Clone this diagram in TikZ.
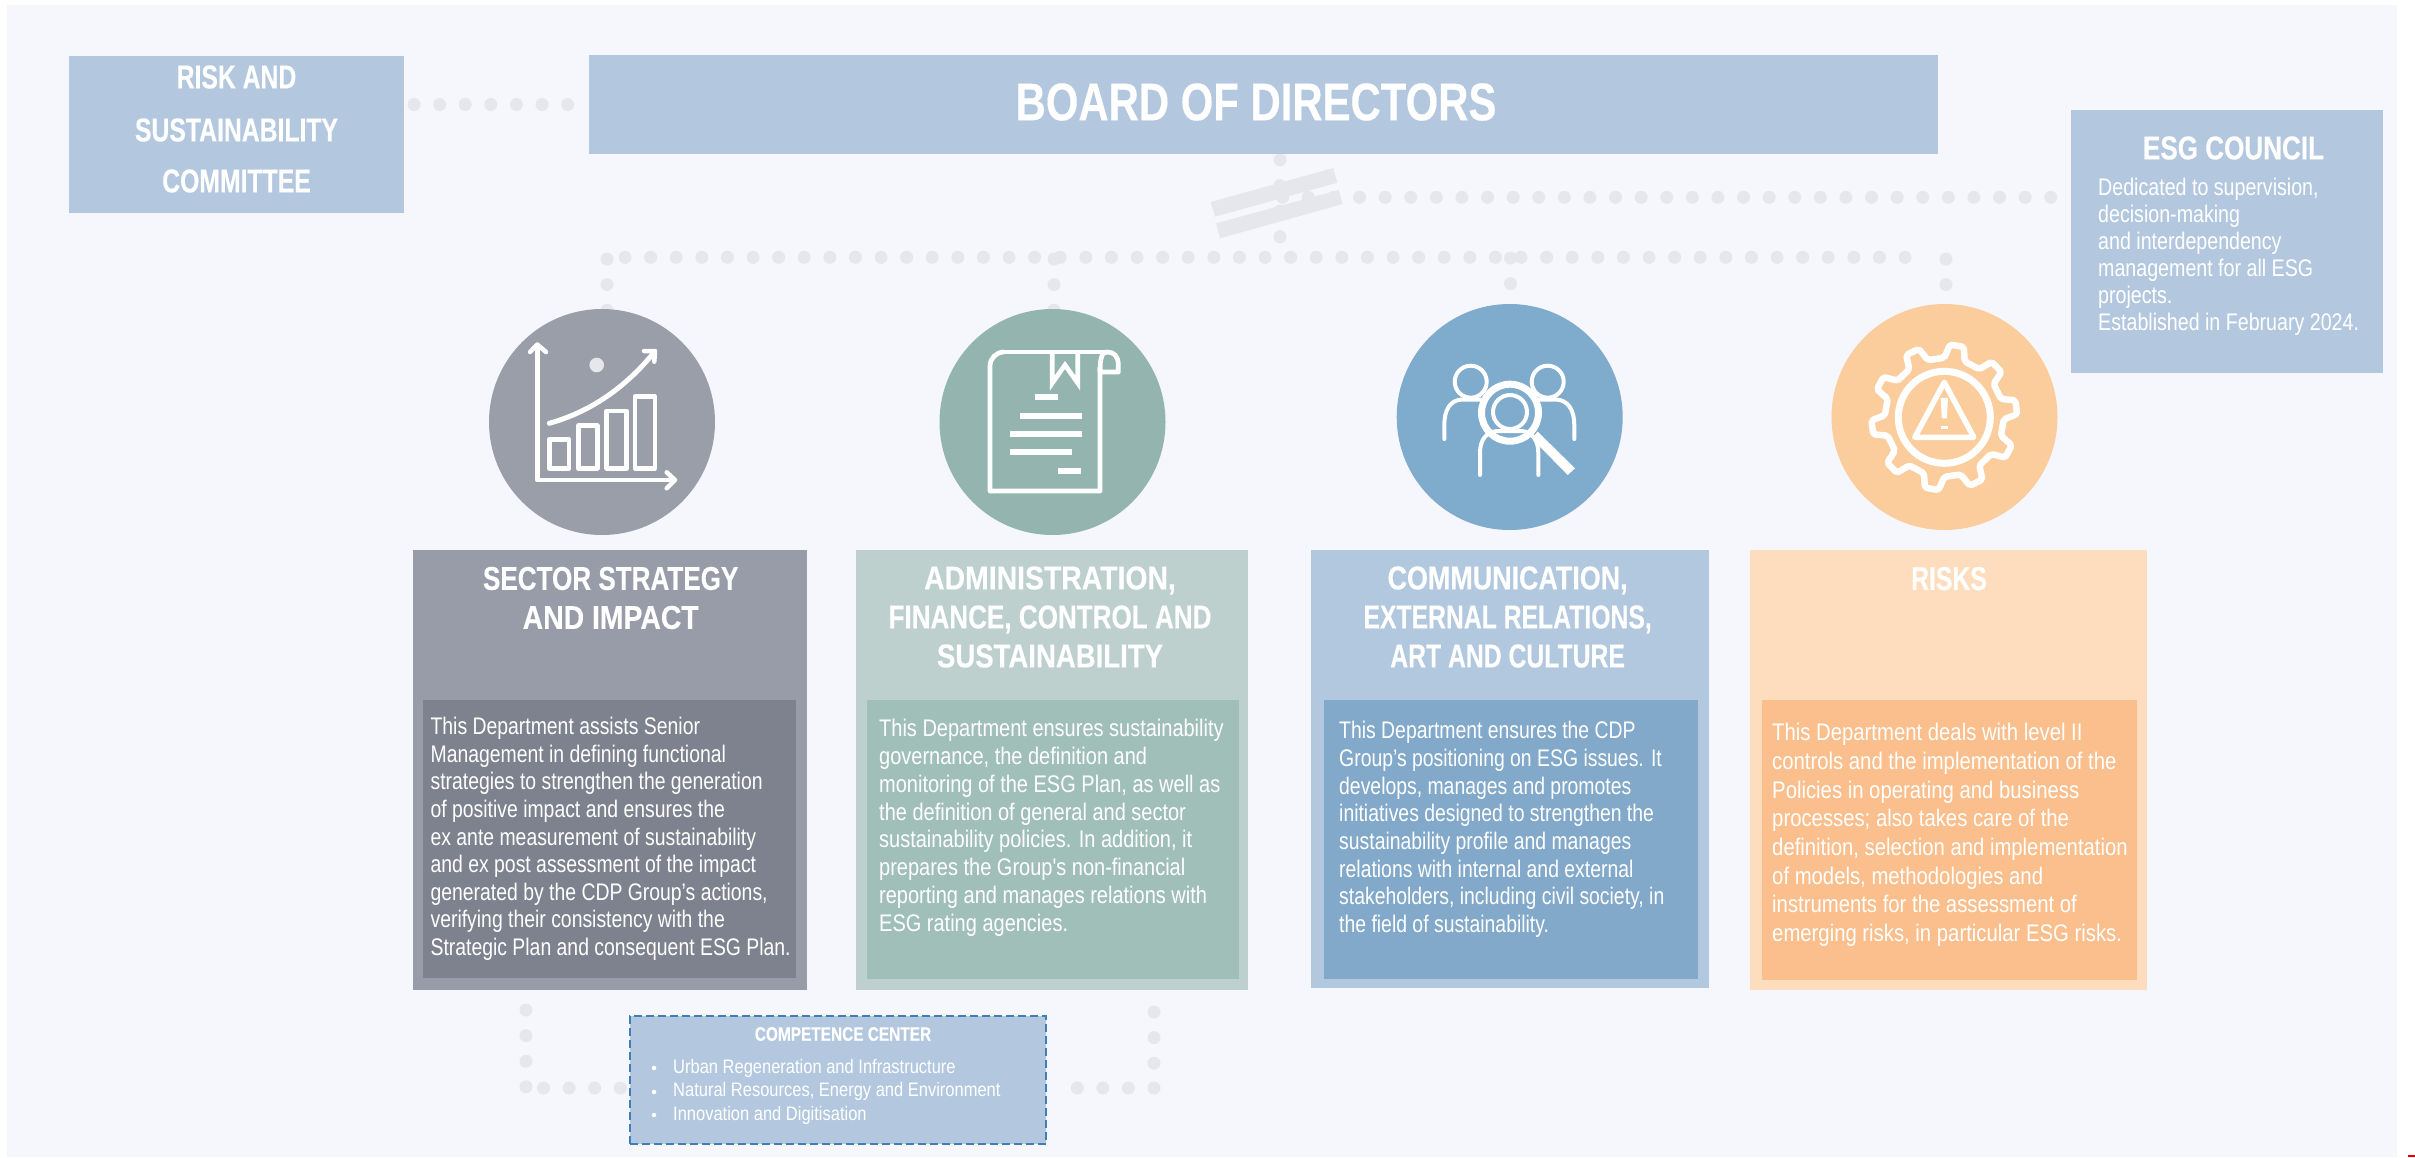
\documentclass[tikz,border=0pt]{standalone}
\usepackage{fontspec}
\setmainfont{Liberation Sans}
\newfontfamily\bodyA[FakeStretch=0.808]{Liberation Sans}
\newfontfamily\bodyB[FakeStretch=0.833]{Liberation Sans}
\newfontfamily\bodyC[FakeStretch=0.846]{Liberation Sans}
\newfontfamily\bodyD[FakeStretch=0.818]{Liberation Sans}
\newfontfamily\headA[FakeStretch=0.79,FakeBold=0.3]{Liberation Sans Bold}
\newfontfamily\headB[FakeStretch=0.75,FakeBold=0.3]{Liberation Sans Bold}
\newfontfamily\headC[FakeStretch=0.815,FakeBold=0.3]{Liberation Sans Bold}
\newfontfamily\headD[FakeStretch=0.86,FakeBold=0.3]{Liberation Sans Bold}
\newfontfamily\headE[FakeStretch=0.835,FakeBold=0.3]{Liberation Sans Bold}
\usetikzlibrary{backgrounds,calc}
\definecolor{bgc}{HTML}{F5F7FC}
\definecolor{boxc}{HTML}{B3C8DF}
\definecolor{dotc}{HTML}{E6E7EC}
\definecolor{gc}{HTML}{9A9EA9}\definecolor{gp}{HTML}{989CA8}\definecolor{gi}{HTML}{7E828E}
\definecolor{tc}{HTML}{94B5AF}\definecolor{tp}{HTML}{BDD0CD}\definecolor{ti}{HTML}{A1BFB9}
\definecolor{bc}{HTML}{7FABCC}\definecolor{bp}{HTML}{B2C8DF}\definecolor{bi}{HTML}{82A9C9}
\definecolor{oc}{HTML}{FBCC9C}\definecolor{op}{HTML}{FDDDBD}\definecolor{oi}{HTML}{FABF8C}
\definecolor{dash}{HTML}{3E7FB5}
\tikzset{
  x=1pt,y=-1pt,
  flat/.style={inner sep=0pt,outer sep=0pt,draw=none,rectangle},
  disc/.style={inner sep=0pt,outer sep=0pt,circle,minimum size=226pt},
  dots/.style={draw=dotc,line width=13pt,line cap=round,dash pattern=on 0pt off 25.6pt},
  titletext/.style={text=white,align=center,inner sep=0pt,font=\headA\fontsize{33}{39}\selectfont},
  bodytext/.style={text=white,align=left,inner sep=0pt,anchor=north west,font=\bodyA\fontsize{24}{27.6}\selectfont},
  ico/.style={draw=white,line width=4.5pt,fill=none,line join=round},
}
\begin{document}
\begin{tikzpicture}
\useasboundingbox (0,0) rectangle (2415,1157);
% boxes
\node[flat,fill=boxc,minimum width=335pt,minimum height=157pt] (risk) at (236.5,134.5) {};
\node[flat,fill=boxc,minimum width=1349pt,minimum height=99pt] (board) at (1263.5,104.5) {};
\node[flat,fill=boxc,minimum width=312pt,minimum height=263pt] (council) at (2227,241.5) {};
\node[titletext,font=\headB\fontsize{33}{39}\selectfont] (risk1) at (236.5,77) {RISK AND};
\node[titletext,font=\headB\fontsize{33}{39}\selectfont] (risk2) at (236.5,130) {SUSTAINABILITY};
\node[titletext,font=\headB\fontsize{33}{39}\selectfont] (risk3) at (236.5,181) {COMMITTEE};
\node[titletext,font=\headA\fontsize{53}{60}\selectfont] (boardt) at (1256,102) {BOARD OF DIRECTORS};
\node[titletext] (councilt) at (2233.5,148) {ESG COUNCIL};
\node[bodytext,font=\bodyD\fontsize{24}{27}\selectfont] (councilb) at (2098,178) {Dedicated to supervision,\\decision-making\\and interdependency\\management for all ESG\\projects.\\Established in February 2024.};
% circles
\node[disc,fill=gc] (c1) at (602,422) {};
\node[disc,fill=tc] (c2) at (1052.5,422) {};
\node[disc,fill=bc] (c3) at (1509.7,417) {};
\node[disc,fill=oc] (c4) at (1944.5,417) {};
% panels
\node[flat,fill=gp,minimum width=394pt,minimum height=440pt] (p1) at (610,770) {};
\node[flat,fill=tp,minimum width=392pt,minimum height=440pt] (p2) at (1052,770) {};
\node[flat,fill=bp,minimum width=398pt,minimum height=438pt] (p3) at (1510,769) {};
\node[flat,fill=op,minimum width=397pt,minimum height=440pt] (p4) at (1948.5,770) {};
\node[flat,fill=gi,minimum width=373pt,minimum height=278pt] (i1) at (609.5,839) {};
\node[flat,fill=ti,minimum width=372pt,minimum height=279pt] (i2) at (1053,839.5) {};
\node[flat,fill=bi,minimum width=374pt,minimum height=279pt] (i3) at (1511,839.5) {};
\node[flat,fill=oi,minimum width=375pt,minimum height=280pt] (i4) at (1949.5,840) {};
\node[titletext] (t1) at (610.7,598) {SECTOR STRATEGY\\{\headD AND IMPACT}};
\node[titletext] (t2) at (1050,617) {{\headD ADMINISTRATION,}\\FINANCE, CONTROL AND\\{\headE SUSTAINABILITY}};
\node[titletext] (t3) at (1507.6,617) {{\headC COMMUNICATION,}\\{\headB EXTERNAL RELATIONS,}\\{\headB ART AND CULTURE}};
\node[titletext,font=\headB\fontsize{33}{39}\selectfont] (t4) at (1949,578.6) {RISKS};
\node[bodytext] (b1) at (430.4,717) {This Department assists Senior\\Management in defining functional\\strategies to strengthen the generation\\of positive impact and ensures the\\ex ante measurement of sustainability\\and ex post assessment of the impact\\generated by the CDP Group’s actions,\\verifying their consistency with the\\Strategic Plan and consequent ESG Plan.};
\node[bodytext,font=\bodyB\fontsize{24}{27.8}\selectfont] (b2) at (879,719) {This Department ensures sustainability\\governance, the definition and\\monitoring of the ESG Plan, as well as\\the definition of general and sector\\sustainability policies. In addition, it\\prepares the Group's non-financial\\reporting and manages relations with\\ESG rating agencies.};
\node[bodytext,font=\bodyA\fontsize{24}{27.7}\selectfont] (b3) at (1339,721) {This Department ensures the CDP\\Group’s positioning on ESG issues. It\\develops, manages and promotes\\initiatives designed to strengthen the\\sustainability profile and manages\\relations with internal and external\\stakeholders, including civil society, in\\the field of sustainability.};
\node[bodytext,font=\bodyC\fontsize{24}{28.7}\selectfont] (b4) at (1772,723) {This Department deals with level II\\controls and the implementation of the\\Policies in operating and business\\processes; also takes care of the\\definition, selection and implementation\\of models, methodologies and\\instruments for the assessment of\\emerging risks, in particular ESG risks.};
% competence
\node[flat,fill=boxc,draw=dash,line width=2.5pt,dash pattern=on 8pt off 4pt,minimum width=416pt,minimum height=128pt] (comp) at (838,1080) {};
\node[titletext,font=\headA\fontsize{19.5}{24}\selectfont] (compt) at (843,1034) {COMPETENCE CENTER};
\node[bodytext,font=\bodyC\fontsize{19.5}{23.6}\selectfont] (compb) at (673,1059) {Urban Regeneration and Infrastructure\\Natural Resources, Energy and Environment\\Innovation and Digitisation};
\node[flat,circle,fill=white,minimum size=4.5pt] (bu1) at (654,1068) {};
\node[flat,circle,fill=white,minimum size=4.5pt] (bu2) at (654,1092) {};
\node[flat,circle,fill=white,minimum size=4.5pt] (bu3) at (654,1115) {};
% junctions
\coordinate (j0) at (1280,160);
\coordinate (j1) at (1280,240);
\coordinate (busL) at (625,257.3);
\coordinate (busR) at (1910,257.3);
\coordinate (cj) at (1282.7,197.3);
\coordinate (d1) at (607,259);
\coordinate (d2) at (1054,259);
\coordinate (d3) at (1510.5,258);
\coordinate (d4) at (1946,259);
\coordinate (lb) at (526,1010);
\coordinate (lc) at (543.5,1088);
\coordinate (rb) at (1154,1012);
\coordinate (rc) at (1154,1088);
\begin{pgfonlayer}{background}
\fill[bgc] (7,5) rectangle (2397,1157);
\fill[red!90!black] (2408,1155) rectangle (2415,1157);
\draw[dots,shorten <=10pt] (risk.east |- board.west) -- (board.west);
\draw[dots] (j0) -- (j1);
\draw[dots] (busL) -- (busR);
\draw[dots] (cj) -- (council.west |- cj);
\fill[dotc] (1210.7,202) -- (1333.3,168) -- (1337.3,182.7) -- (1215,216.7) -- cycle;
\fill[dotc] (1216,223.3) -- (1338.7,190) -- (1342.7,204) -- (1220,238.3) -- cycle;
\draw[dots] (d1) -- ([yshift=-5pt]d1 |- c1.north);
\draw[dots] (d2) -- ([yshift=-5pt]d2 |- c2.north);
\draw[dots] (d3) -- ([yshift=-5pt]d3 |- c3.north);
\draw[dots] (d4) -- (d4 |- c4.north);
\draw[dots] (lb) -- (lb |- lc);
\draw[dots] (lc) -- (comp.west |- lc);
\draw[dots] (rb) -- (rc);
\draw[dots,shorten >=14pt] (rc) -- (comp.east |- rc);
\end{pgfonlayer}
% chart icon
\draw[ico] (537.3,345) -- (537.3,480) -- (675,480);
\draw[ico,line cap=round] (530,352) -- (537.3,344.5) -- (546,352);
\draw[ico,line cap=round] (666.7,472.3) -- (675,480) -- (666.7,488.3);
\draw[ico] (549.3,439.3) rectangle (569,468.3);
\draw[ico] (578.3,425.7) rectangle (597.3,468.3);
\draw[ico] (606.7,411) rectangle (626.7,468.3);
\draw[ico] (635,396.7) rectangle (655,468.3);
\draw[ico,line width=5pt,line cap=round] (549.3,423.3) .. controls (596.7,410) and (630,381.7) .. (653.3,353.3);
\draw[ico,line cap=round] (644,351) -- (655,351) -- (654.3,361.7);
\fill[dotc] (596.7,365) circle (7.3);
% document icon
\draw[ico,line width=4.7pt] (1100,367) -- (1100,491) -- (990,491) -- (990,366) arc[start angle=180,end angle=90,radius=14pt] ;
\draw[ico,line width=4.7pt] (1004,352) -- (1106,352);
\draw[ico,line width=4.7pt] (1100,372) -- (1118.3,372) -- (1118.3,365) .. controls (1118.3,356) and (1114,352) .. (1107,352) .. controls (1102,352) and (1100,358) .. (1100,372);
\draw[ico,line width=4.7pt,line join=miter] (1052.3,352) -- (1052.3,383) -- (1065,365) -- (1077.7,383) -- (1077.7,352);
\foreach \xa/\xb/\yy in {1035/1057.7/397,1020/1081.7/416,1010/1081.7/433.7,1010/1071.7/451.7,1058.3/1081/470.7}
  \fill[white] (\xa,\yy-3) rectangle (\xb,\yy+3);
% people icon
\draw[ico,line width=4pt] (1470.7,381.7) circle (16);
\draw[ico,line width=4pt] (1547.7,381.7) circle (16);
\draw[ico,line width=4pt,line cap=round] (1444.3,439) -- (1444.3,425) .. controls (1444.3,410) and (1450,400) .. (1462,399.5) -- (1483,399.5);
\draw[ico,line width=4pt,line cap=round] (1574.3,439) -- (1574.3,425) .. controls (1574.3,410) and (1568,400) .. (1556,399.5) -- (1536.7,399.5);
\draw[ico,line width=4pt] (1510,412) circle (17);
\draw[ico,line width=7pt] (1510,412.7) circle (28.5);
\draw[ico,line width=4pt,line cap=round] (1480,475) -- (1480,453) .. controls (1480,440) and (1486,432) .. (1497,431) -- (1522,431) .. controls (1532,432) and (1538.3,440) .. (1538.3,453) -- (1538.3,475);
\fill[white] (1531.7,438.3) -- (1537.7,431.7) -- (1575,468.3) -- (1567.7,475) -- cycle;
% gear icon
\begin{scope}[shift={(1944.3,417.3)}]
\draw[ico,line width=6.5pt,rounded corners=2pt]
  (-90:59.5) \foreach \a in {-80,-44,-8,28,64,100,136,172,208,244}{ -- (\a-10:59.5) -- (\a-5.5:73) -- (\a+5.5:73) -- (\a+10:59.5) } -- cycle;
\draw[ico,line width=7pt] (0,0) circle (46);
\draw[ico,line width=5.5pt] (0,-35) -- (29.5,20) -- (-29.5,20) -- cycle;
\fill[white] (-3.7,-19.5) -- (3.7,-19.5) -- (2.5,1) -- (-2.5,1) -- cycle;
\fill[white] (-3.5,8.5) rectangle (3.5,11.5);
\end{scope}
\end{tikzpicture}
\end{document}
